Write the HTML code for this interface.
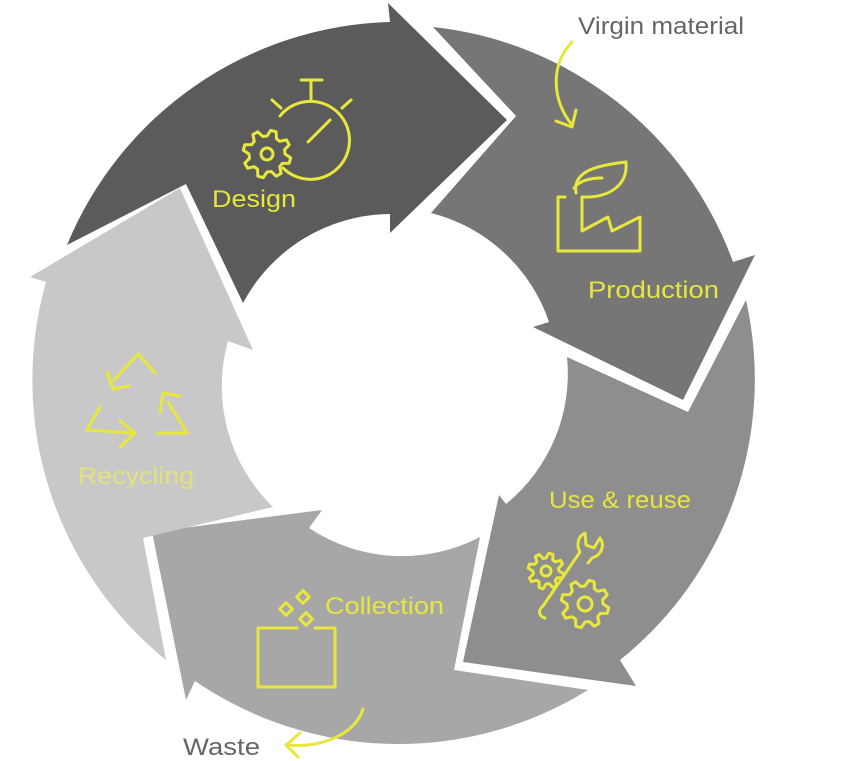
<!DOCTYPE html>
<html><head><meta charset="utf-8">
<style>
html,body{margin:0;padding:0;background:#fff;}
svg{display:block;}
text{font-family:"Liberation Sans",sans-serif;}
</style></head>
<body>
<svg id="s" width="845" height="761" viewBox="0 0 845 761" xmlns="http://www.w3.org/2000/svg">
<path fill="#5b5b5b" d="M67,245 A360,360 0 0 1 390,22 L388,3 L507,120 L390,233 L390,214 A168,168 0 0 0 243,303 L186,184 Z"/>
<path fill="#767676" d="M433,27 A360,360 0 0 1 733,262 L755,255 L683,400 L533,327 L549,322 A168,168 0 0 0 431,213 L516,116 Z"/>
<path fill="#8e8e8e" d="M746,300 A360,360 0 0 1 620,660 L636,686 L463,662 L499,495 L506,504 A168,168 0 0 0 567,357 L688,412 Z"/>
<path fill="#a7a7a7" d="M588,690 A360,360 0 0 1 195,681 L186,700 L152,532 L322,510 L309,528 A168,168 0 0 0 480,537 L454,670 Z"/>
<path fill="#c8c8c8" d="M166,660 A360,360 0 0 1 46,282 L30,277 L180,188 L253,350 L228,341 A168,168 0 0 0 273,507 L143,538 Z"/>

<g fill="none" stroke="#e8e83c" stroke-width="3" stroke-linecap="round" stroke-linejoin="round">
 <path d="M283,168 A39,39 0 1 0 280,116"/>
 <line x1="301" y1="80" x2="322" y2="80"/><line x1="311" y1="80" x2="311" y2="101"/>
 <line x1="272" y1="100" x2="281" y2="108"/><line x1="351" y1="100" x2="342" y2="108"/>
 <line x1="308" y1="142" x2="330" y2="120"/>
 <g id="g1"></g>
 <path d="M565,197 L558,197 L558,251 L640,251 L640,217 L612,231 L608,217 L582,231 L582,197"/>
 <path d="M576,193 C572,170 600,165 626,162 C628,185 610,198 582,197"/>
 <path d="M574,188 C580,180 592,178 602,178"/>
 <path d="M572,42 C550,65 552,100 572,125"/>
 <path d="M556,121 L572,127 L576,110"/>
 <path d="M155,373 L138,354 L114,380"/><path d="M107,372 L113,389 L129,386"/>
 <path d="M158,433 L187,433 L168,402"/><path d="M160,412 L163,393 L180,396"/>
 <path d="M100,407 L87,430 L133,433"/><path d="M120,421 L135,433 L120,447"/>
 <path d="M297,628 L258,628 L258,687 L335,687 L335,628 L315,628"/>
 <rect x="-4.5" y="-4.5" width="9" height="9" transform="translate(286,609) rotate(45)"/>
 <rect x="-4.5" y="-4.5" width="9" height="9" transform="translate(303,597) rotate(45)"/>
 <rect x="-4.5" y="-4.5" width="9" height="9" transform="translate(306,619) rotate(45)"/>
 <path d="M363,709 C355,735 320,748 288,745"/>
 <path d="M300,733 L286,745 L298,757"/>
 <path d="M545,618 C538,616 538,610 543,606 L580,552 C576,545 578,536 585,533 L586,545 L594,548 L600,538 C605,545 602,555 592,558 L588,563"/>
 <g id="g2"></g>
</g>

<g font-size="24" fill="#e6e63c">
 <text x="212" y="207" textLength="84" lengthAdjust="spacingAndGlyphs">Design</text>
 <text x="588" y="298" textLength="131" lengthAdjust="spacingAndGlyphs">Production</text>
 <text x="549" y="508" textLength="142" lengthAdjust="spacingAndGlyphs">Use &amp; reuse</text>
 <text x="325" y="614" textLength="119" lengthAdjust="spacingAndGlyphs">Collection</text>
 <text x="78" y="484" textLength="116" lengthAdjust="spacingAndGlyphs" fill="#e2e27a">Recycling</text>
</g>
<g font-size="24" fill="#666">
 <text x="578" y="34" textLength="166" lengthAdjust="spacingAndGlyphs">Virgin material</text>
 <text x="183" y="755" textLength="77" lengthAdjust="spacingAndGlyphs">Waste</text>
</g>
</svg>
<script>
function gear(cx,cy,ro,ri,hub,n){
  var d="",st=Math.PI*2/n;
  for(var i=0;i<n;i++){
    var a=i*st;
    var pts=[[a,ri],[a+st*0.2,ro],[a+st*0.5,ro],[a+st*0.7,ri]];
    pts.forEach(function(p,j){
      var x=cx+p[1]*Math.cos(p[0]),y=cy+p[1]*Math.sin(p[0]);
      d+=(i==0&&j==0?"M":"L")+x.toFixed(1)+","+y.toFixed(1);
    });
  }
  d+="Z";
  return '<path d="'+d+'"/><circle cx="'+cx+'" cy="'+cy+'" r="'+hub+'"/>';
}
document.getElementById("g1").innerHTML=gear(267,154,24,18,6,8);
document.getElementById("g2").innerHTML=gear(546,571,18,13,5,8)+gear(585,604,24,18,7,8);
</script>
</body></html>
